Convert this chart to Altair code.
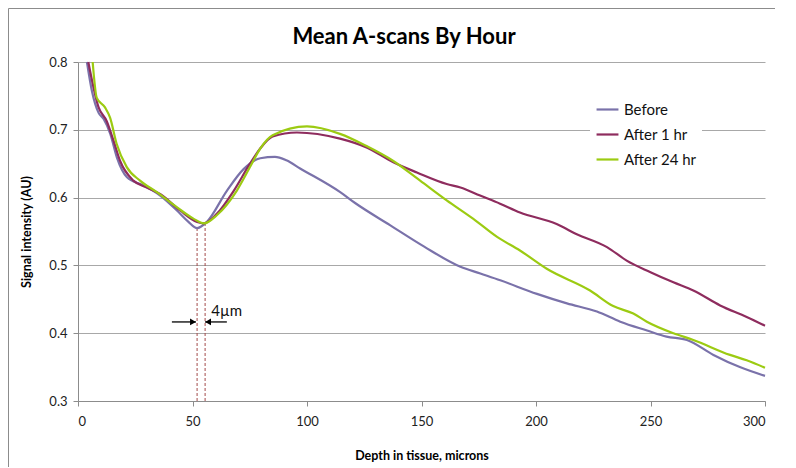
import altair as alt
import pandas as pd

# ---- data ----
series_names = ["Before", "After 1 hr", "After 24 hr"]
series_colors = ["#7A72AA", "#8E2C5E", "#9CCB12"]

before_x = [3.9, 6.1, 9.0, 11.2, 14.1, 17.0, 21.4, 28.6, 35.9, 43.2, 48.0, 52.0, 56.2, 65.0, 72.3, 79.6, 86.0, 91.0, 97.0, 114.5, 121.0, 136.4, 151.0, 167.0, 175.7, 184.4, 200.4, 213.5, 226.6, 236.8, 248.5, 257.0, 265.9, 277.5, 289.0, 300.0]
before_y = [0.800, 0.757, 0.725, 0.716, 0.694, 0.659, 0.630, 0.618, 0.603, 0.581, 0.565, 0.555, 0.564, 0.610, 0.642, 0.658, 0.660, 0.655, 0.643, 0.608, 0.592, 0.559, 0.528, 0.498, 0.488, 0.478, 0.458, 0.444, 0.432, 0.417, 0.404, 0.395, 0.390, 0.368, 0.350, 0.337]

after1_x = [4.5, 9.0, 12.5, 15.5, 18.4, 24.2, 30.0, 36.0, 44.6, 52.0, 55.0, 60.6, 68.0, 75.1, 79.5, 85.0, 95.6, 114.4, 126.0, 137.7, 148.0, 161.0, 167.0, 175.6, 184.3, 193.0, 209.0, 217.8, 231.0, 239.6, 250.0, 260.0, 268.7, 280.4, 292.0, 300.0]
after1_y = [0.800, 0.733, 0.713, 0.684, 0.654, 0.625, 0.615, 0.605, 0.581, 0.564, 0.562, 0.576, 0.610, 0.650, 0.672, 0.690, 0.696, 0.687, 0.674, 0.652, 0.637, 0.620, 0.615, 0.603, 0.591, 0.578, 0.561, 0.546, 0.527, 0.507, 0.490, 0.475, 0.463, 0.441, 0.424, 0.411]

after24_x = [6.4, 8.2, 11.8, 14.0, 16.9, 21.3, 27.1, 34.4, 43.1, 50.4, 55.0, 60.6, 69.3, 75.1, 79.5, 85.0, 100.0, 114.4, 126.0, 137.7, 149.4, 161.0, 172.5, 183.0, 193.0, 204.7, 223.6, 233.7, 242.5, 248.4, 260.0, 268.7, 284.7, 292.0, 300.0]
after24_y = [0.800, 0.747, 0.733, 0.718, 0.679, 0.645, 0.625, 0.608, 0.586, 0.569, 0.562, 0.574, 0.610, 0.645, 0.672, 0.692, 0.705, 0.694, 0.676, 0.654, 0.625, 0.596, 0.569, 0.542, 0.522, 0.495, 0.463, 0.440, 0.429, 0.417, 0.400, 0.390, 0.368, 0.360, 0.349]

x_ticks = [0, 50, 100, 150, 200, 250, 300]
y_ticks = [0.3, 0.4, 0.5, 0.6, 0.7, 0.8]

chart_title = "Mean A-scans By Hour"

# annotation: minima markers and the 4 µm arrows
min_x = [52.0, 55.5]
min_y = [0.556, 0.562]
arrow_y = 0.4166
arrow_left = [41.0, 51.5]
arrow_right = [55.5, 65.0]
label_text = "4µm"
label_pos = [58.2, 0.421]

rows = []
for name, xs, ys in [("Before", before_x, before_y),
                     ("After 1 hr", after1_x, after1_y),
                     ("After 24 hr", after24_x, after24_y)]:
    for i, (a, b) in enumerate(zip(xs, ys)):
        rows.append({"depth": a, "signal": b, "series": name, "order": i})
df = pd.DataFrame(rows)

W, H = 687, 339
PAD_L, PAD_T, PAD_R, PAD_B = 70, 54, 10, 66
FONT = "Lato"

x_scale = alt.Scale(domain=[0, 300], nice=False)
y_scale = alt.Scale(domain=[0.3, 0.8], nice=False, zero=False)

lines = alt.Chart(df).mark_line(strokeWidth=2.2, interpolate="monotone").encode(
    x=alt.X("depth:Q", scale=x_scale,
            axis=alt.Axis(values=x_ticks, title="Depth in tissue, microns", grid=False,
                          tickSize=5, labelPadding=9, titlePadding=21,
                          domainColor="#8C8C8C", tickColor="#8C8C8C")),
    y=alt.Y("signal:Q", scale=y_scale,
            axis=alt.Axis(values=y_ticks, format=".1f", title="Signal intensity (AU)",
                          tickSize=5, labelPadding=6, titlePadding=15,
                          grid=True, gridColor="#A8A8A8",
                          domainColor="#8C8C8C", tickColor="#8C8C8C")),
    color=alt.Color("series:N", sort=series_names,
                    scale=alt.Scale(domain=series_names, range=series_colors),
                    legend=alt.Legend(title=None, orient="none", legendX=512, legendY=30,
                                      symbolType="stroke", symbolSize=480, symbolStrokeWidth=2.2,
                                      labelFont=FONT, labelFontSize=15, labelColor="#111",
                                      labelOffset=4, rowPadding=4, padding=5,
                                      fillColor="white")),
    order="order:Q",
)

min_df = pd.DataFrame({"x": min_x, "y0": [0.3, 0.3], "y1": min_y})
dashes = alt.Chart(min_df).mark_rule(color="#A34A4A", strokeWidth=1, strokeDash=[3, 2]).encode(
    x=alt.X("x:Q", scale=x_scale), y=alt.Y("y0:Q", scale=y_scale), y2="y1:Q")

arr_df = pd.DataFrame({"x0": [arrow_left[0], arrow_right[0]],
                       "x1": [arrow_left[1], arrow_right[1]],
                       "y": [arrow_y, arrow_y]})
arrow_lines = alt.Chart(arr_df).mark_rule(color="black", strokeWidth=1.3).encode(
    x=alt.X("x0:Q", scale=x_scale), x2="x1:Q", y=alt.Y("y:Q", scale=y_scale))

head_df = pd.DataFrame({"x": [arrow_left[1] - 1.3, arrow_right[0] + 1.3],
                        "y": [arrow_y, arrow_y],
                        "shape": ["triangle-right", "triangle-left"]})
heads = alt.Chart(head_df).mark_point(filled=True, size=45, color="black", opacity=1).encode(
    x=alt.X("x:Q", scale=x_scale), y=alt.Y("y:Q", scale=y_scale),
    shape=alt.Shape("shape:N", scale=None))

lab_df = pd.DataFrame({"x": [label_pos[0]], "y": [label_pos[1]], "t": [label_text]})
label = alt.Chart(lab_df).mark_text(align="left", baseline="bottom", font=FONT,
                                    fontSize=15, color="#111").encode(
    x=alt.X("x:Q", scale=x_scale), y=alt.Y("y:Q", scale=y_scale), text="t:N")

title_mark = alt.Chart(pd.DataFrame({"t": [chart_title]})).mark_text(
    align="center", baseline="alphabetic", font=FONT, fontSize=22, fontWeight="bold",
    color="black").encode(x=alt.value(326), y=alt.value(-18), text="t:N")

frame_left = alt.Chart(pd.DataFrame({"k": [0]})).mark_rule(color="#8C8C8C", strokeWidth=1).encode(
    x=alt.value(-PAD_L + 0.5), y=alt.value(-PAD_T + 0.5), y2=alt.value(H + PAD_B))
frame_top = alt.Chart(pd.DataFrame({"k": [0]})).mark_rule(color="#8C8C8C", strokeWidth=1).encode(
    x=alt.value(-PAD_L + 0.5), x2=alt.value(W + PAD_R), y=alt.value(-PAD_T + 0.5))

chart = alt.layer(frame_left, frame_top, dashes, lines, arrow_lines, heads, label, title_mark).properties(
    width=W, height=H,
    autosize=alt.AutoSizeParams(type="none"),
    padding={"left": PAD_L, "top": PAD_T, "right": PAD_R, "bottom": PAD_B},
).configure_view(strokeWidth=0).configure_axis(
    labelFont=FONT, labelFontSize=13, labelColor="#222",
    titleFont=FONT, titleFontSize=12.5, titleFontWeight="bold", titleColor="black",
)

chart.save("out.html", embed_options={"renderer": "svg", "actions": False})
